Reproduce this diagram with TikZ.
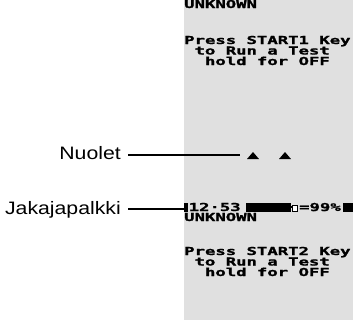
\documentclass[tikz,border=0pt]{standalone}
\usepackage{fontspec}
\setmainfont{Liberation Sans}
\newfontfamily\lcdfont{DejaVu Sans Mono}[BoldFeatures={FakeBold=1.2}]
\usepackage{tikz}
\usetikzlibrary{calc}

\definecolor{lcdGray}{RGB}{224,224,224}
\newcommand{\lcd}[1]{\scalebox{1.57}[1]{\lcdfont\bfseries\fontsize{11}{11}\selectfont #1}}
\newcommand{\callout}[1]{\scalebox{1.18}[1]{\fontsize{18}{18}\selectfont #1}}

\tikzset{
  lcdtext/.style={anchor=base west, inner sep=0pt},
  calloutlabel/.style={anchor=base east, inner sep=0pt, inner xsep=7pt},
  leader/.style={line width=1.2pt},
  barblock/.style={fill=black}
}

\begin{document}
\begin{tikzpicture}[x=1pt, y=-1pt, style={line cap=butt}]

  \useasboundingbox (0,0) rectangle (353,322);

  % display
  \fill[lcdGray] (184,0) rectangle (353,320);

  \node[lcdtext] (unknownA) at (184,8) {\lcd{UNKNOWN}};
  \node[lcdtext] (pressA) at (184,44) {\lcd{Press START1 Key}};
  \node[lcdtext] (runA) at (194.4,54.5) {\lcd{to Run a Test}};
  \node[lcdtext] (holdA) at (204.8,65) {\lcd{hold for OFF}};

  % arrows
  \fill (247,159) -- (259,159) -- (253,152) -- cycle;
  \fill (279,159) -- (291,159) -- (285,152) -- cycle;

  % status bar
  \fill[barblock] (184,203) rectangle (188,212);
  \node[lcdtext] (clock) at (188.5,211) {\lcd{12·53}};
  \fill[barblock] (246,203) rectangle (291,212);
  \fill[white, draw=black, line width=1pt] (292.5,205) rectangle (297.5,211);
  \fill[barblock] (291,206) rectangle (293,208);
  \node[lcdtext] (charge) at (299,211) {\lcd{=99\%}};
  \fill[barblock] (343,203) rectangle (353,212);

  \node[lcdtext] (unknownB) at (184,221) {\lcd{UNKNOWN}};
  \node[lcdtext] (pressB) at (184,255) {\lcd{Press START2 Key}};
  \node[lcdtext] (runB) at (194.4,265.5) {\lcd{to Run a Test}};
  \node[lcdtext] (holdB) at (204.8,276) {\lcd{hold for OFF}};

  % callouts
  \node[calloutlabel] (nuolet) at (128,159) {\callout{Nuolet}};
  \coordinate (nuoletEnd) at (240,155);
  \draw[leader] (nuoletEnd -| nuolet.east) -- (nuoletEnd);

  \node[calloutlabel] (jakaja) at (128,214) {\callout{Jakajapalkki}};
  \coordinate (jakajaEnd) at (184,209);
  \draw[leader] (jakajaEnd -| jakaja.east) -- (jakajaEnd);

\end{tikzpicture}
\end{document}
